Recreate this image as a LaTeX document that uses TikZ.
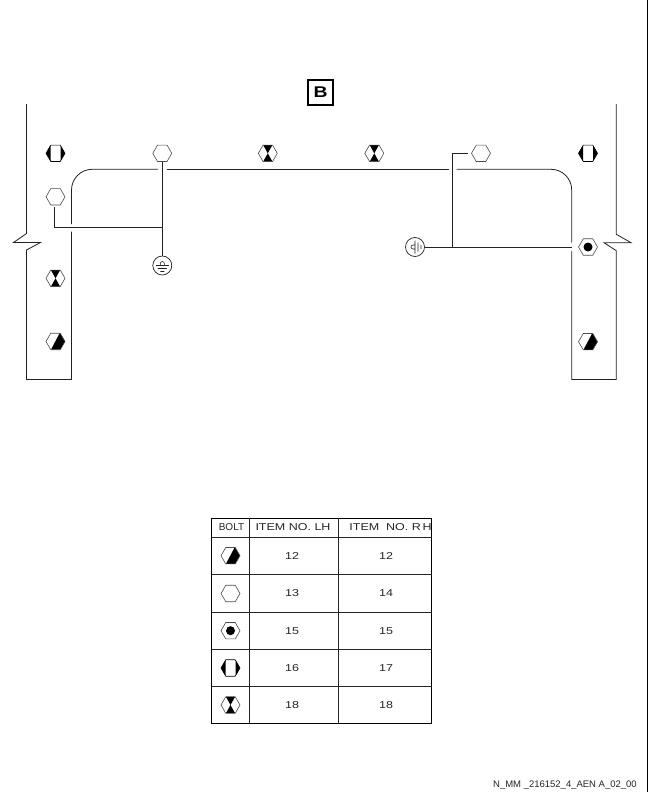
\documentclass[tikz,border=0pt]{standalone}
\usepackage{fontspec}
\setmainfont{Liberation Sans}
\newfontfamily\widefont[FakeStretch=1.25]{Liberation Sans}
\usetikzlibrary{positioning,shapes.geometric}
\definecolor{linGris}{HTML}{222222}
\tikzset{
  hexbolt/.style={regular polygon, regular polygon sides=6, draw=black!70,
    line width=.6pt, minimum size=19pt, inner sep=0pt, fill=white},
  boltplain/.style={hexbolt},
  boltdiag/.style={hexbolt, path picture={
    \fill[black, shift={(path picture bounding box.center)}] (4.5,-9) -- (11,-9) -- (11,10) -- (-5.5,10) -- cycle;}},
  boltdot/.style={hexbolt, path picture={
    \fill[black, shift={(path picture bounding box.center)}] (0,0) circle (4.5);}},
  boltside/.style={hexbolt, draw=black, path picture={
    \fill[black, shift={(path picture bounding box.center)}] (-11,-10) rectangle (-5,10) (5,-10) rectangle (11,10);}},
  bolthour/.style={hexbolt, path picture={
    \fill[black, shift={(path picture bounding box.center)}] (-5,-9) -- (5,-9) -- (0,0) -- cycle (-5,9) -- (5,9) -- (0,0) -- cycle;}},
  gndring/.style={circle, draw=linGris, line width=.7pt, minimum size=19pt, inner sep=0pt},
  wire/.style={linGris, line width=.8pt},
  tabtext/.style={font=\widefont\fontsize{10}{10}\selectfont, text=black!85, inner sep=0pt},
  gndmark/.pic={
    \draw[linGris, line width=.6pt] (-2,-2) arc (180:360:2) (-2,-2) -- (-2,0) (2,-2) -- (2,0)
      (-6.5,0) -- (6.5,0) (-4.5,3) -- (4.5,3) (-2,6) -- (2,6);
  }
}
\begin{document}
\begin{tikzpicture}[x=1pt, y=-1pt]
  \useasboundingbox (0,0) rectangle (648,792);
  % left and right bracket outline
  \draw[wire] (26.5,104) -- (26.5,233.5) -- (13.5,242.5) -- (40.5,242.5) -- (26.5,250) -- (26.5,379.5)
    -- (71.5,379.5) -- (71.5,231.5);
  \draw[wire] (71.5,224) -- (71.5,190) arc (180:270:20.7) -- (158,169.3);
  \draw[wire] (166.5,169.3) -- (449,169.3);
  \draw[wire] (456.7,169.3) -- (551,169.3) arc (270:360:20.7) -- (571.7,242.7);
  \draw[wire] (571.7,251) -- (571.7,379.5) -- (616.3,379.5) -- (616.3,250.7) -- (604,242.7)
    -- (631,242.7) -- (616.3,234.3) -- (616.3,104);
  \draw[black, line width=1pt] (647.5,0) -- (647.5,792);
  % bolts on the bracket
  \foreach \x/\y/\t/\n in {
      55.5/153.3/boltside/boltA,
      162.3/153.3/boltplain/boltB,
      267.8/153.3/bolthour/boltC,
      374.3/153.3/bolthour/boltD,
      481/153.3/boltplain/boltE,
      588/153.3/boltside/boltF,
      55.5/196.8/boltplain/boltG,
      55.5/278.3/bolthour/boltH,
      55.5/341.5/boltdiag/boltI,
      588/247/boltdot/boltJ,
      588/341.7/boltdiag/boltK} {
    \node[\t] (\n) at (\x,\y) {};
  }
  % ground points and wires
  \node[gndring] (gndL) at (162.3,265.5) {};
  \node[gndring] (gndR) at (415,247) {};
  \pic at (gndL) {gndmark};
  \pic[rotate=90] at (gndR) {gndmark};
  \coordinate (jctL) at (162.3,227.3);
  \coordinate (kneeL) at (54.3,227.3);
  \coordinate (jctR) at (452.3,247);
  \coordinate (kneeR) at (452.3,153.3);
  \draw[wire] (boltB) -- (gndL);
  \draw[wire, shorten <=1.5pt] (boltG.south -| kneeL) -- (kneeL) -- (jctL);
  \draw[wire, shorten <=3.5pt] (boltE) -- (kneeR) -- (jctR);
  \draw[wire, shorten >=6pt] (gndR) -- (boltJ);
  % view label
  \node[draw=black, line width=1.6pt, minimum size=24.5pt, inner sep=0pt, font=\widefont\bfseries\fontsize{15.5}{16}\selectfont] (viewB) at (320.5,92.5) {B};
  % table
  \draw[black, line width=1.3pt] (211.7,518.3) rectangle (431.7,723.3);
  \draw[black!85, line width=.8pt] (249.3,518.3) -- (249.3,723.3) (338.3,518.3) -- (338.3,723.3);
  \foreach \y in {537.3,574.3,612.3,649.3,686.7} {
    \draw[black!85, line width=.8pt] (211.7,\y) -- (431.7,\y);
  }
  \node[tabtext, font=\fontsize{10}{10}\selectfont] (headA) at (231.5,527) {BOLT};
  \node[tabtext] (headB) at (293,527) {ITEM NO. LH};
  \node[tabtext] (headC) at (390.5,527) {ITEM\ \ NO. R\,H};
  \foreach \y/\t/\a/\b/\n in {
      555.7/boltdiag/12/12/rowA,
      593.5/boltplain/13/14/rowB,
      630.7/boltdot/15/15/rowC,
      668/boltside/16/17/rowD,
      705/bolthour/18/18/rowE} {
    \node[\t] (\n) at (230.5,\y) {};
    \node[tabtext] (\n LH) at (292,\y) {\a};
    \node[tabtext] (\n RH) at (386,\y) {\b};
  }
  \node[anchor=east, inner sep=0pt, font=\fontsize{9.5}{10}\selectfont, text=black!85] (refcode) at (637,785) {N\_MM \_216152\_4\_AEN A\_02\_00};
\end{tikzpicture}
\end{document}
